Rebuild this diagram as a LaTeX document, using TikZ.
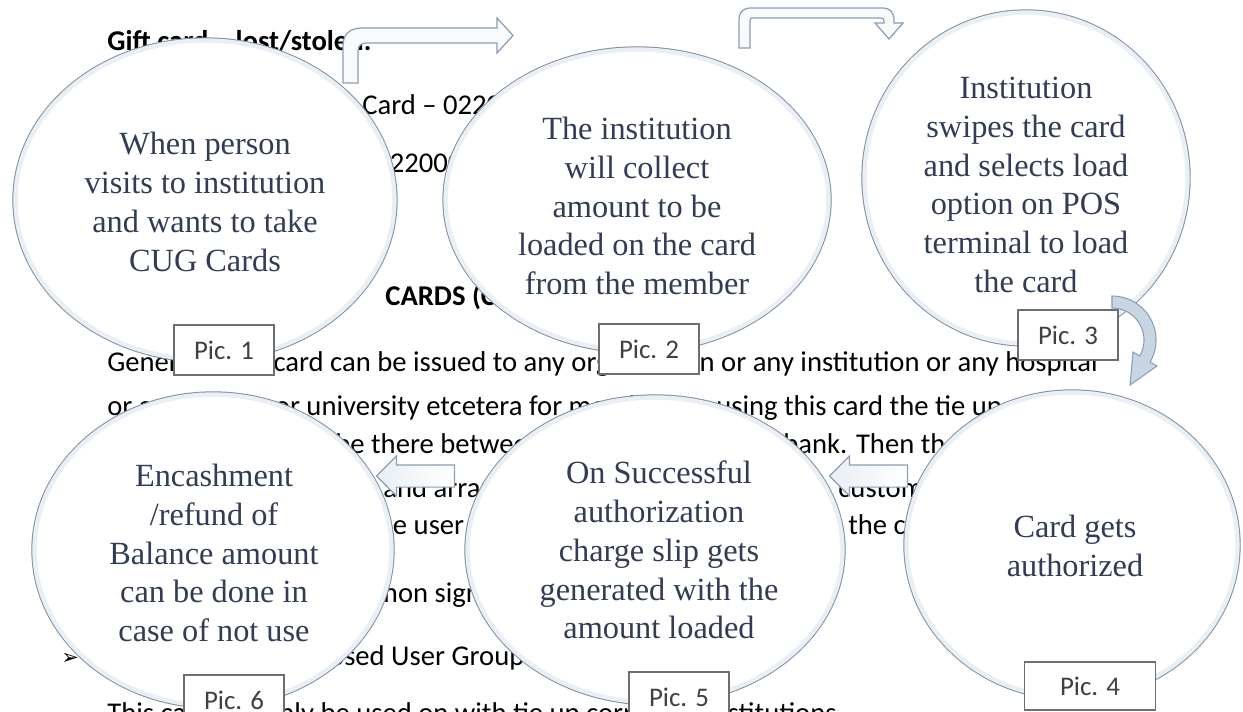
\documentclass[tikz,border=0pt]{standalone}
\usepackage{fontspec}
\setmainfont{Carlito}
\newfontfamily\cirfont{Liberation Serif}
\newfontfamily\symfont{DejaVu Sans}
\usetikzlibrary{shapes.geometric,shapes.arrows}
\definecolor{ebd}{RGB}{128,143,163}
\definecolor{eglow}{RGB}{234,239,246}
\definecolor{etx}{RGB}{50,60,85}
\definecolor{bbd}{RGB}{110,110,110}
\definecolor{btx}{RGB}{64,64,64}
\definecolor{abd}{RGB}{140,158,180}
\definecolor{afl}{RGB}{248,250,252}
\definecolor{afltwo}{RGB}{232,238,245}
\definecolor{cfl}{RGB}{200,214,228}
\begin{document}
\begin{tikzpicture}[x=0.02cm,y=-0.02cm,
  bg/.style={anchor=base west, inner sep=0pt, font=\fontsize{16.3}{19.5}\selectfont},
  bgb/.style={anchor=base west, inner sep=0pt, font=\fontsize{16.3}{19.5}\selectfont\bfseries},
  bul/.style={anchor=base west, inner sep=0pt, font=\symfont\fontsize{12}{14}\selectfont},
  circ/.style={ellipse, draw=ebd, line width=0.8pt, fill=white, inner sep=0pt},
  glow/.style={ellipse, draw=eglow, line width=2.5pt, inner sep=0pt},
  ctext/.style={align=center, text=etx, font=\cirfont\fontsize{18.4}{22.1}\selectfont, inner sep=0pt},
  picbox/.style={draw=bbd, line width=0.7pt, fill=white, text=btx, font=\fontsize{15.3}{18}\selectfont, minimum width=2cm, minimum height=1cm, inner sep=0pt},
  blk/.style={draw=abd, line width=0.7pt, fill=afl},
  larrow/.style={single arrow, shape border rotate=180, draw=abd, left color=afltwo, right color=white, line width=0.7pt, inner sep=0pt, inner ysep=0.21cm, single arrow head extend=0.18cm, minimum height=1.56cm}
]
\fill[white] (0,0) rectangle (1243,711);
\useasboundingbox (0,0) rectangle (1243,711);

% background document text
\node[bgb] (tgift) at (107,50) {Gift card – lost/stolen.};
\node[bg] (tcard) at (362,114) {Card – 0220000};
\node[bg] (tnum) at (375,172) {0220000};
\node[bgb] (tcug) at (385,305) {CARDS (CUG)};
\node[bg] (tla) at (107,371) {Generally this card can be issued to any organization or any institution or any hospital};
\node[bg] (tlb) at (107,415) {or any college or university etcetera for members};
\node[bg] (tlc) at (716,415) {using this card the tie up};
\node[bg] (tld) at (335,453) {be there between};
\node[bg] (tle) at (783,453) {bank. Then the};
\node[bg] (tlf) at (383,497) {and arrange};
\node[bg] (tlg) at (838,497) {customers};
\node[bg] (tlh) at (368,534) {the user};
\node[bg] (tli) at (848,534) {the card};
\node[bg] (tlj) at (325,602) {common signature};
\node[bul] (bua) at (61,664) {➢};
\node[bg] (tlk) at (307,665) {Closed User Group};
\node[bul] (bub) at (61,724) {➢};
\node[bg] (tll) at (107,722) {This card can only be used on with tie up corporate institutions};

% ellipses
\node[circ, minimum width=7.68cm, minimum height=6.48cm] (e1) at (205,200) {};
\node[glow, minimum width=7.58cm, minimum height=6.38cm] (g1) at (e1) {};
\node[ctext] (t1) at (205,202) {When person\\visits to institution\\and wants to take\\CUG Cards};
\node[circ, minimum width=7.76cm, minimum height=6.12cm] (e2) at (637,200) {};
\node[glow, minimum width=7.66cm, minimum height=6.02cm] (g2) at (e2) {};
\node[ctext] (t2) at (637,206) {The institution\\will collect\\amount to be\\loaded on the card\\from the member};
\node[circ, minimum width=6.56cm, minimum height=6.72cm] (e3) at (1026,178) {};
\node[glow, minimum width=6.46cm, minimum height=6.62cm] (g3) at (e3) {};
\node[ctext] (t3) at (1026,185) {Institution\\swipes the card\\and selects load\\option on POS\\terminal to load\\the card};
\node[circ, minimum width=6.72cm, minimum height=6.2cm] (e4) at (1072,545) {};
\node[glow, minimum width=6.62cm, minimum height=6.1cm] (g4) at (e4) {};
\node[ctext] (t4) at (1075,546) {Card gets\\authorized};
\node[circ, minimum width=7.6cm, minimum height=6.2cm] (e5) at (655,550) {};
\node[glow, minimum width=7.5cm, minimum height=6.1cm] (g5) at (e5) {};
\node[ctext] (t5) at (659,550) {On Successful\\authorization\\charge slip gets\\generated with the\\amount loaded};
\node[circ, minimum width=7.24cm, minimum height=6.32cm] (e6) at (213,550) {};
\node[glow, minimum width=7.14cm, minimum height=6.22cm] (g6) at (e6) {};
\node[ctext] (t6) at (214,553) {Encashment\\/refund of\\Balance amount\\can be done in\\case of not use};

% picture labels
\node[picbox] (p1) at (224,350) {Pic. 1};
\node[picbox] (p2) at (649,349) {Pic. 2};
\node[picbox] (p3) at (1068,335) {Pic. 3};
\node[picbox, minimum width=2.62cm, minimum height=0.96cm] (p4) at (1090,686) {Pic. 4};
\node[picbox] (p5) at (679,697) {Pic. 5};
\node[picbox] (p6) at (234,700) {Pic. 6};

% bent arrow 1 -> 2
\draw[blk] (343,83) -- (343,46) .. controls (343,34) and (350,28) .. (362,28) -- (497,28) -- (497,18) -- (513,35.5) -- (497,53) -- (497,43) -- (366,43) .. controls (361,43) and (358,46) .. (358,51) -- (358,83) -- cycle;

% bent arrow 2 -> 3
\draw[blk] (739,48) -- (739,20) .. controls (739,12) and (743,8) .. (751,8) -- (882,8) .. controls (890,8) and (894,12) .. (894,20) -- (894,23) -- (903,23) -- (889,39) -- (875,23) -- (884,23) -- (884,21) .. controls (884,19) and (883,18) .. (881,18) -- (752,18) .. controls (751,18) and (750,19) .. (750,21) -- (750,48) -- cycle;

% curved arrow 3 -> 4
\draw[draw=abd, fill=cfl, line width=0.6pt]
  plot[domain=0:120, samples=25] ({1112+44*sin(\x)},{340-44*cos(\x)})
  -- (1157,366) -- (1130,385) -- (1133,352)
  -- plot[domain=120:0, samples=25] ({1112+32*sin(\x)},{340-32*cos(\x)}) -- cycle;

% left arrows
\node[larrow] (a45) at (874,476) {};
\node[larrow] (a56) at (421,476) {};
\end{tikzpicture}
\end{document}
